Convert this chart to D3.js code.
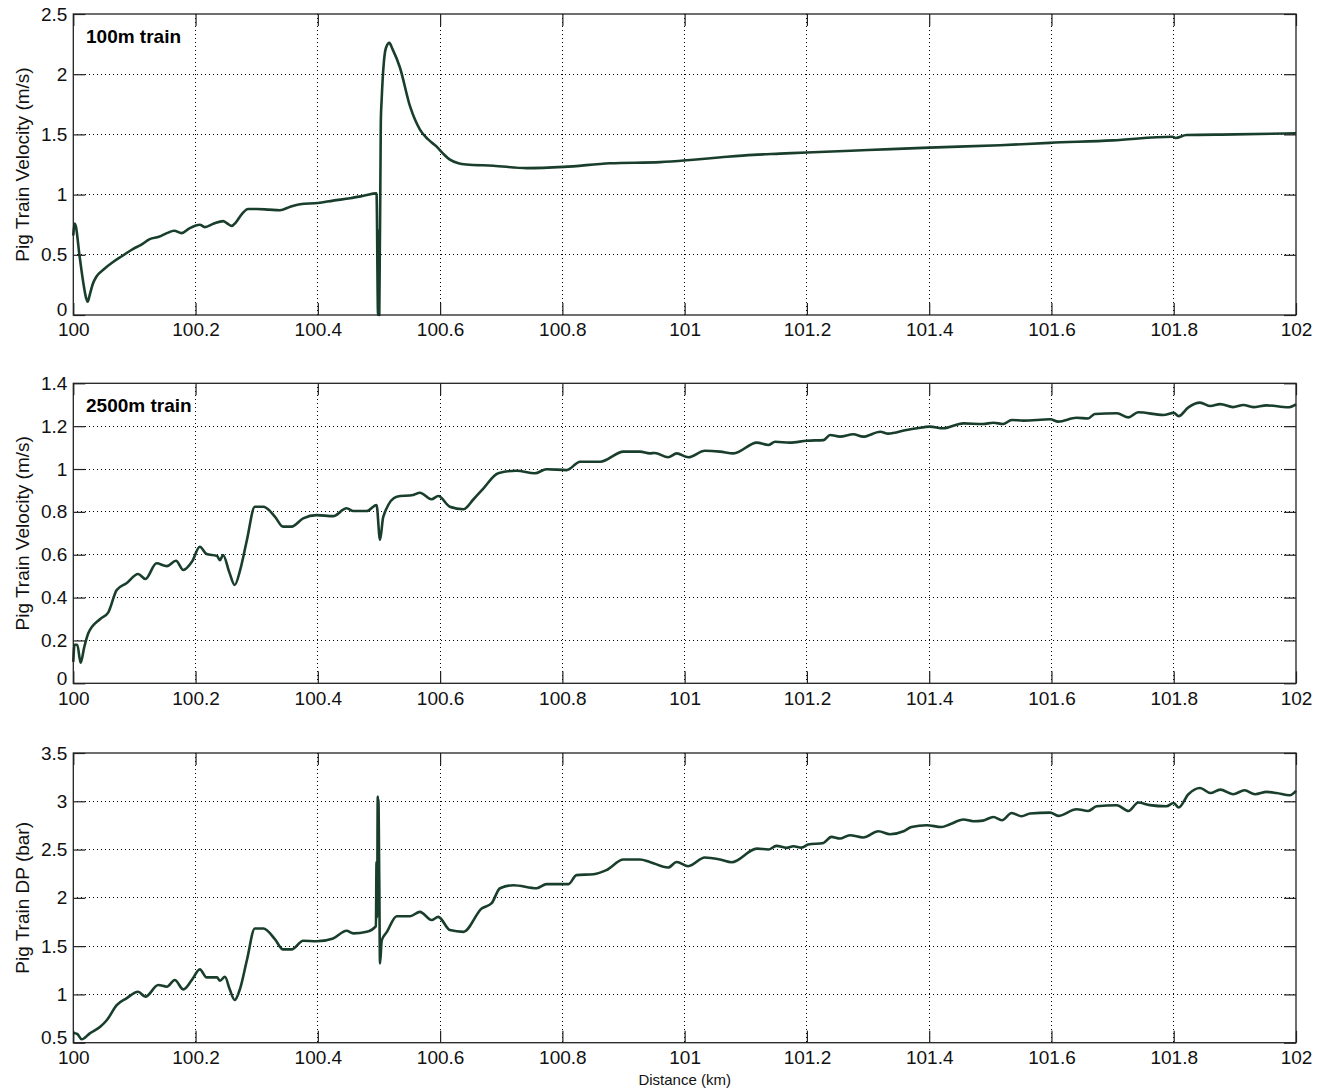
<!DOCTYPE html>
<html>
<head>
<meta charset="utf-8">
<script src="https://cdn.jsdelivr.net/npm/d3@7"></script>
<style>
  body { margin: 0; background: #fff; }
  svg { display: block; font-family: "Liberation Sans", Arial, sans-serif; }
  .tick text { fill: #111; }
</style>
</head>
<body>
<svg width="1326" height="1091"></svg>
<script>
// distance ticks shared by all three panels
const xTicks = [100, 100.2, 100.4, 100.6, 100.8, 101, 101.2, 101.4, 101.6, 101.8, 102];
const xTickLabels = ["100", "100.2", "100.4", "100.6", "100.8", "101", "101.2", "101.4", "101.6", "101.8", "102"];

// panel 1 : 100m train velocity
const dist1 = [100.000, 100.002, 100.004, 100.010, 100.016, 100.021, 100.0235, 100.027, 100.032, 100.038,
  100.050, 100.065, 100.080, 100.098, 100.110, 100.125, 100.140, 100.153, 100.165, 100.177,
  100.190, 100.207, 100.215, 100.230, 100.245, 100.252, 100.259, 100.266, 100.276, 100.286,
  100.300, 100.320, 100.338, 100.355, 100.371, 100.400, 100.425, 100.453, 100.475, 100.496,
  100.4985, 100.4995, 100.5005, 100.503, 100.5045, 100.508, 100.5115, 100.517, 100.522, 100.534,
  100.551, 100.567, 100.580, 100.594, 100.605, 100.616, 100.630, 100.643, 100.687, 100.742,
  100.802, 100.878, 100.960, 101.014, 101.060, 101.112, 101.156, 101.200, 101.300, 101.400,
  101.516, 101.597, 101.700, 101.798, 101.803, 101.821, 101.900, 102.000];
const vel1 = [0.66, 0.76, 0.74, 0.50, 0.28, 0.14, 0.11, 0.17, 0.26, 0.32,
  0.38, 0.44, 0.49, 0.55, 0.58, 0.63, 0.65, 0.68, 0.70, 0.68,
  0.72, 0.75, 0.73, 0.76, 0.78, 0.76, 0.74, 0.77, 0.84, 0.88,
  0.88, 0.875, 0.87, 0.90, 0.92, 0.93, 0.95, 0.97, 0.99, 1.01,
  0.00, 0.70, 0.00, 1.60, 1.80, 2.10, 2.22, 2.26, 2.21, 2.06,
  1.73, 1.54, 1.46, 1.40, 1.34, 1.29, 1.26, 1.25, 1.24, 1.22,
  1.23, 1.26, 1.27, 1.29, 1.31, 1.33, 1.34, 1.35, 1.37, 1.39,
  1.41, 1.43, 1.45, 1.48, 1.47, 1.495, 1.50, 1.51];

// panel 2 : 2500m train velocity
const dist2 = [100.000, 100.002, 100.0065, 100.012, 100.018, 100.0245, 100.044, 100.057, 100.071, 100.087,
  100.106, 100.118, 100.136, 100.153, 100.168, 100.180, 100.194, 100.207, 100.218, 100.235,
  100.240, 100.245, 100.255, 100.264, 100.273, 100.284, 100.297, 100.311, 100.330, 100.343,
  100.357, 100.376, 100.398, 100.425, 100.447, 100.458, 100.480, 100.496, 100.5017, 100.507,
  100.529, 100.556, 100.567, 100.586, 100.597, 100.616, 100.638, 100.655, 100.671, 100.695,
  100.725, 100.755, 100.774, 100.807, 100.829, 100.862, 100.900, 100.927, 100.943, 100.951,
  100.973, 100.987, 101.006, 101.033, 101.058, 101.080, 101.118, 101.137, 101.148, 101.172,
  101.200, 101.227, 101.238, 101.254, 101.276, 101.292, 101.320, 101.333, 101.363, 101.380,
  101.401, 101.423, 101.456, 101.488, 101.505, 101.521, 101.535, 101.554, 101.598, 101.611,
  101.641, 101.660, 101.671, 101.707, 101.726, 101.742, 101.783, 101.800, 101.808, 101.824,
  101.843, 101.860, 101.876, 101.897, 101.914, 101.930, 101.952, 101.987, 102.000];
const vel2 = [0.10, 0.18, 0.18, 0.096, 0.17, 0.233, 0.30, 0.33, 0.435, 0.467,
  0.51, 0.487, 0.56, 0.547, 0.572, 0.529, 0.567, 0.637, 0.603, 0.594,
  0.575, 0.599, 0.52, 0.459, 0.529, 0.669, 0.824, 0.824, 0.777, 0.731,
  0.731, 0.77, 0.785, 0.78, 0.817, 0.804, 0.804, 0.832, 0.669, 0.777,
  0.871, 0.879, 0.889, 0.859, 0.874, 0.824, 0.812, 0.86, 0.91, 0.98,
  0.992, 0.98, 0.999, 0.995, 1.034, 1.034, 1.081, 1.081, 1.073, 1.075,
  1.055, 1.073, 1.055, 1.085, 1.081, 1.073, 1.123, 1.112, 1.127, 1.123,
  1.132, 1.135, 1.159, 1.151, 1.162, 1.151, 1.174, 1.165, 1.182, 1.19,
  1.198, 1.19, 1.213, 1.21, 1.216, 1.21, 1.229, 1.226, 1.232, 1.221,
  1.239, 1.236, 1.257, 1.26, 1.241, 1.265, 1.252, 1.262, 1.247, 1.288,
  1.31, 1.294, 1.303, 1.289, 1.299, 1.289, 1.297, 1.288, 1.302];

// panel 3 : 2500m train differential pressure
const dist3 = [100.000, 100.0065, 100.0137, 100.027, 100.044, 100.055, 100.071, 100.087, 100.106, 100.118,
  100.139, 100.153, 100.166, 100.180, 100.194, 100.207, 100.218, 100.235, 100.240, 100.248,
  100.256, 100.264, 100.273, 100.284, 100.297, 100.311, 100.330, 100.343, 100.357, 100.376,
  100.398, 100.425, 100.447, 100.458, 100.480, 100.495, 100.496, 100.497, 100.498, 100.4985,
  100.499, 100.5005, 100.5017, 100.5045, 100.513, 100.529, 100.551, 100.567, 100.586, 100.597,
  100.616, 100.638, 100.668, 100.684, 100.698, 100.720, 100.758, 100.774, 100.810, 100.823,
  100.851, 100.872, 100.900, 100.927, 100.943, 100.973, 100.987, 101.006, 101.033, 101.058,
  101.077, 101.118, 101.137, 101.150, 101.167, 101.178, 101.191, 101.202, 101.227, 101.240,
  101.254, 101.270, 101.292, 101.317, 101.336, 101.358, 101.371, 101.396, 101.420, 101.434,
  101.456, 101.472, 101.488, 101.505, 101.519, 101.535, 101.551, 101.565, 101.598, 101.611,
  101.641, 101.660, 101.674, 101.707, 101.726, 101.742, 101.761, 101.788, 101.800, 101.808,
  101.824, 101.843, 101.860, 101.876, 101.897, 101.916, 101.933, 101.952, 101.968, 101.990, 102.000];
const dp3 = [0.60, 0.59, 0.535, 0.597, 0.665, 0.735, 0.89, 0.96, 1.028, 0.976,
  1.097, 1.08, 1.149, 1.052, 1.15, 1.259, 1.176, 1.176, 1.142, 1.183,
  1.05, 0.942, 1.063, 1.356, 1.683, 1.683, 1.57, 1.466, 1.466, 1.555,
  1.55, 1.58, 1.659, 1.632, 1.648, 1.707, 2.37, 1.80, 3.05, 2.05,
  3.02, 2.16, 1.32, 1.56, 1.648, 1.81, 1.81, 1.855, 1.77, 1.803,
  1.666, 1.648, 1.89, 1.942, 2.10, 2.131, 2.10, 2.142, 2.142, 2.235,
  2.245, 2.287, 2.397, 2.397, 2.372, 2.314, 2.372, 2.328, 2.418, 2.397,
  2.369, 2.51, 2.50, 2.538, 2.518, 2.535, 2.52, 2.552, 2.569, 2.631,
  2.614, 2.649, 2.625, 2.69, 2.659, 2.69, 2.734, 2.752, 2.734, 2.762,
  2.811, 2.794, 2.80, 2.838, 2.804, 2.879, 2.845, 2.873, 2.883, 2.849,
  2.918, 2.90, 2.948, 2.959, 2.90, 2.987, 2.96, 2.948, 2.983, 2.935,
  3.073, 3.138, 3.086, 3.121, 3.073, 3.114, 3.073, 3.097, 3.086, 3.062, 3.107];

const yTicks1 = [0, 0.5, 1, 1.5, 2, 2.5];
const yTicks2 = [0, 0.2, 0.4, 0.6, 0.8, 1, 1.2, 1.4];
const yTicks3 = [0.5, 1, 1.5, 2, 2.5, 3, 3.5];

const panels = [
  {xs: dist1, ys: vel1, yDomain: [0, 2.5], yTicks: yTicks1, top: 14, bottom: 315,
   ylabel: "Pig Train Velocity (m/s)", note: "100m train", noteY: 43},
  {xs: dist2, ys: vel2, yDomain: [0, 1.4], yTicks: yTicks2, top: 383.3, bottom: 683.3,
   ylabel: "Pig Train Velocity (m/s)", note: "2500m train", noteY: 412},
  {xs: dist3, ys: dp3, yDomain: [0.5, 3.5], yTicks: yTicks3, top: 753, bottom: 1042.7,
   ylabel: "Pig Train DP (bar)", note: null}
];

const svg = d3.select("svg");
const left = 73.3, right = 1296;
const tickLen = 12;
const lineColor = "#193f2c";

const x = d3.scaleLinear().domain([100, 102]).range([left, right]);

panels.forEach((p, i) => {
  const y = d3.scaleLinear().domain(p.yDomain).range([p.bottom, p.top]);
  const g = svg.append("g");

  // dotted grid
  g.append("g").selectAll("line")
    .data(xTicks.slice(1, -1))
    .enter().append("line")
    .attr("x1", d => x(d)).attr("x2", d => x(d))
    .attr("y1", p.top).attr("y2", p.bottom)
    .attr("stroke", "#000").attr("stroke-width", 1)
    .attr("stroke-dasharray", "1,3")
    .attr("shape-rendering", "crispEdges");
  g.append("g").selectAll("line")
    .data(p.yTicks.slice(1, -1))
    .enter().append("line")
    .attr("y1", d => y(d)).attr("y2", d => y(d))
    .attr("x1", left).attr("x2", right)
    .attr("stroke", "#000").attr("stroke-width", 1)
    .attr("stroke-dasharray", "1,3")
    .attr("shape-rendering", "crispEdges");

  // data line
  const pts = p.xs.map((d, k) => [d, p.ys[k]]);
  const line = d3.line().x(d => x(d[0])).y(d => y(d[1])).curve(d3.curveMonotoneX);
  g.append("path")
    .datum(pts)
    .attr("d", line)
    .attr("fill", "none")
    .attr("stroke", lineColor)
    .attr("stroke-width", 2.6)
    .attr("stroke-linejoin", "round");

  // axes with inward ticks on all four sides
  const fmt = (d, k) => xTickLabels[k];
  const bottomAx = g.append("g")
    .attr("transform", `translate(0,${p.bottom})`)
    .call(d3.axisBottom(x).tickValues(xTicks).tickFormat(fmt).tickSizeInner(-tickLen).tickSizeOuter(0).tickPadding(8));
  const topAx = g.append("g")
    .attr("transform", `translate(0,${p.top})`)
    .call(d3.axisTop(x).tickValues(xTicks).tickFormat("").tickSizeInner(-tickLen).tickSizeOuter(0));
  const leftAx = g.append("g")
    .attr("transform", `translate(${left},0)`)
    .call(d3.axisLeft(y).tickValues(p.yTicks).tickFormat(d3.format("")).tickSizeInner(-tickLen).tickSizeOuter(0).tickPadding(6));
  const rightAx = g.append("g")
    .attr("transform", `translate(${right},0)`)
    .call(d3.axisRight(y).tickValues(p.yTicks).tickFormat("").tickSizeInner(-tickLen).tickSizeOuter(0));

  [bottomAx, topAx, leftAx, rightAx].forEach(a => {
    a.select(".domain").remove();
    a.selectAll(".tick line").attr("stroke", "#222").attr("stroke-width", 1.2);
    a.selectAll(".tick text").attr("font-size", 19).attr("font-family", "Liberation Sans, Arial, sans-serif");
  });
  // the lowest y label sits just above the corner, as in the original
  leftAx.selectAll(".tick text").filter((d, k) => k === 0).attr("dy", "0.05em");

  // box
  g.append("rect")
    .attr("x", left).attr("y", p.top)
    .attr("width", right - left).attr("height", p.bottom - p.top)
    .attr("fill", "none").attr("stroke", "#222").attr("stroke-width", 1.3);

  // y label
  g.append("text")
    .attr("transform", `translate(29,${(p.top + p.bottom) / 2}) rotate(-90)`)
    .attr("text-anchor", "middle")
    .attr("font-size", 19)
    .attr("fill", "#111")
    .text(p.ylabel);

  if (p.note) {
    g.append("text")
      .attr("x", 86).attr("y", p.noteY)
      .attr("font-size", 19)
      .attr("font-weight", "bold")
      .attr("fill", "#000")
      .text(p.note);
  }
});

// x label below the last panel
svg.append("text")
  .attr("x", (left + right) / 2)
  .attr("y", 1085)
  .attr("text-anchor", "middle")
  .attr("font-size", 15)
  .attr("fill", "#111")
  .text("Distance (km)");
</script>
</body>
</html>
